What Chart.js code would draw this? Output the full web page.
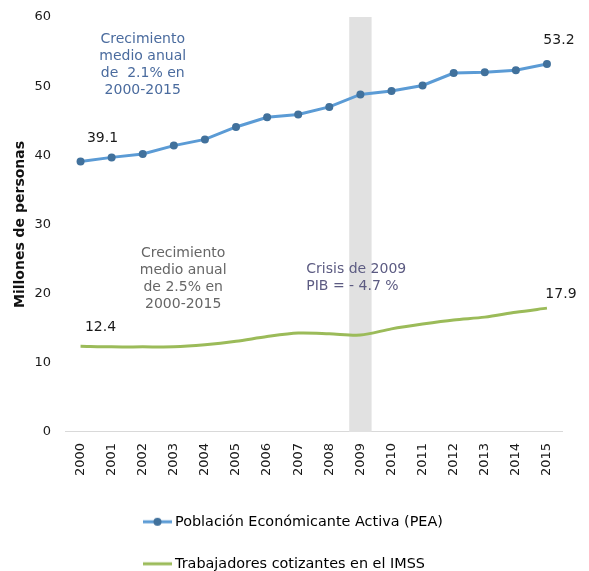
<!DOCTYPE html>
<html>
<head>
<meta charset="utf-8">
<script src="https://cdn.jsdelivr.net/npm/chart.js@4"></script>
<style>
  html, body { margin: 0; padding: 0; background: #fff; }
  #wrap { width: 589px; height: 571px; }
</style>
</head>
<body>
<div id="wrap"><canvas id="myChart" width="589" height="571"></canvas></div>
<script>
var anios = ['2000','2001','2002','2003','2004','2005','2006','2007','2008','2009','2010','2011','2012','2013','2014','2015'];
var pea = [39.1,39.7,40.2,41.4,42.3,44.1,45.5,45.9,47.0,48.8,49.3,50.1,51.9,52.0,52.3,53.2];
var imss = [12.4,12.3,12.3,12.3,12.6,13.1,13.8,14.3,14.2,14.0,14.9,15.6,16.2,16.6,17.3,17.9];
// franja gris del año de crisis (hasta el tope del eje)
var crisis = [null,null,null,null,null,null,null,null,null,60,null,null,null,null,null,null];
var yTicks = [0,10,20,30,40,50,60];

var fuente = "'DejaVu Sans', Verdana, sans-serif";
Chart.defaults.font.family = fuente;
Chart.defaults.font.size = 13;
Chart.defaults.color = '#222';

// muestra de leyenda: linea con marcador
function muestraLinea(color, conPunto, colorPunto){
  var c = document.createElement('canvas');
  c.width = 29; c.height = 10;
  var g = c.getContext('2d');
  g.strokeStyle = color; g.lineWidth = 3;
  g.beginPath(); g.moveTo(0,5); g.lineTo(29,5); g.stroke();
  if (conPunto){
    g.fillStyle = colorPunto;
    g.beginPath(); g.arc(14.5,5,4,0,Math.PI*2); g.fill();
  }
  return c;
}

var etiquetas = {
  id: 'etiquetas',
  // leyenda alineada a la izquierda, bajo el centro del gráfico
  afterLayout: function(chart){
    chart.legend.left = 119.6;
  },
  afterDatasetsDraw: function(chart){
    var ctx = chart.ctx;
    var x = chart.scales.x, y = chart.scales.y;
    ctx.save();
    ctx.font = '14px ' + fuente;
    ctx.textAlign = 'center';
    ctx.textBaseline = 'middle';

    // valores inicial y final de cada serie
    var marcas = [
      {ds:0, i:0, dx:22, dy:-23},
      {ds:0, i:15, dx:12, dy:-24},
      {ds:1, i:0, dx:20, dy:-19},
      {ds:1, i:15, dx:14, dy:-14}
    ];
    marcas.forEach(function(m){
      var p = chart.getDatasetMeta(m.ds).data[m.i];
      var v = chart.data.datasets[m.ds].data[m.i];
      ctx.fillStyle = '#1a1a1a';
      ctx.fillText(v.toFixed(1), p.x + m.dx, p.y + m.dy);
    });

    function bloque(lineas, cx, vy, color, align){
      ctx.fillStyle = color;
      ctx.textAlign = align;
      var px = x.getPixelForValue(cx);
      var py = y.getPixelForValue(vy);
      lineas.forEach(function(t, k){ ctx.fillText(t, px, py + k*17); });
    }
    bloque(['Crecimiento','medio anual','de  2.1% en','2000-2015'], 2.0, 56.7, '#4a6b9e', 'center');
    bloque(['Crecimiento','medio anual','de 2.5% en','2000-2015'], 3.3, 25.8, '#666666', 'center');
    bloque(['Crisis de 2009','PIB = - 4.7 %'], 7.26, 23.5, '#5c5b82', 'left');
    ctx.restore();
  }
};

var ctx = document.getElementById('myChart').getContext('2d');
var chart = new Chart(ctx, {
  type: 'line',
  data: {
    labels: anios,
    datasets: [
      {
        label: 'Población Económicante Activa (PEA)',
        data: pea,
        borderColor: '#5b9bd5',
        backgroundColor: '#41719c',
        pointBackgroundColor: '#41719c',
        pointBorderWidth: 0,
        pointRadius: 4,
        borderWidth: 3,
        tension: 0,
        order: 1
      },
      {
        label: 'Trabajadores cotizantes en el IMSS',
        data: imss,
        borderColor: '#9bbb59',
        backgroundColor: '#9bbb59',
        pointRadius: 0,
        borderWidth: 3,
        tension: 0.3,
        order: 2
      },
      {
        type: 'bar',
        label: 'crisis',
        data: crisis,
        backgroundColor: '#e1e1e1',
        barPercentage: 0.72,
        categoryPercentage: 1,
        order: 3
      }
    ]
  },
  options: {
    responsive: false,
    animation: false,
    layout: { padding: { top: 17, right: 26.5, left: 4, bottom: -10 } },
    plugins: {
      tooltip: { enabled: false },
      legend: {
        position: 'bottom',
        align: 'start',
        labels: {
          usePointStyle: true,
          pointStyleWidth: 20.6,
          padding: 27.6,
          color: '#1a1a1a',
          font: { size: 14.4 },
          filter: function(it){ return it.datasetIndex < 2; },
          generateLabels: function(chart){
            return chart.data.datasets.map(function(ds, i){
              return {
                text: ds.label,
                datasetIndex: i,
                pointStyle: i === 0 ? muestraLinea('#5b9bd5', true, '#41719c') : muestraLinea('#9bbb59', false),
                fillStyle: ds.borderColor,
                strokeStyle: ds.borderColor,
                lineWidth: 0
              };
            });
          }
        }
      }
    },
    scales: {
      x: {
        offset: true,
        grid: { display: false, drawTicks: false },
        border: { display: true, color: '#d9d9d9', width: 1 },
        ticks: { minRotation: 90, maxRotation: 90, color: '#1a1a1a', padding: 11 },
        afterFit: function(s){ s.paddingLeft = 0; s.paddingRight = 0; }
      },
      y: {
        min: 0,
        max: 60,
        afterBuildTicks: function(s){ s.ticks = yTicks.map(function(v){ return {value: v}; }); },
        afterFit: function(s){ s.width = 61; s.paddingTop = 0; s.paddingBottom = 0; },
        grid: { display: false, drawTicks: false },
        border: { display: false },
        ticks: { color: '#1a1a1a', padding: 14 },
        title: {
          display: true,
          text: 'Millones de personas',
          color: '#111',
          font: { size: 14, weight: 'bold' },
          padding: { top: 7.6, bottom: 6 }
        }
      }
    }
  },
  plugins: [etiquetas]
});
</script>
</body>
</html>
